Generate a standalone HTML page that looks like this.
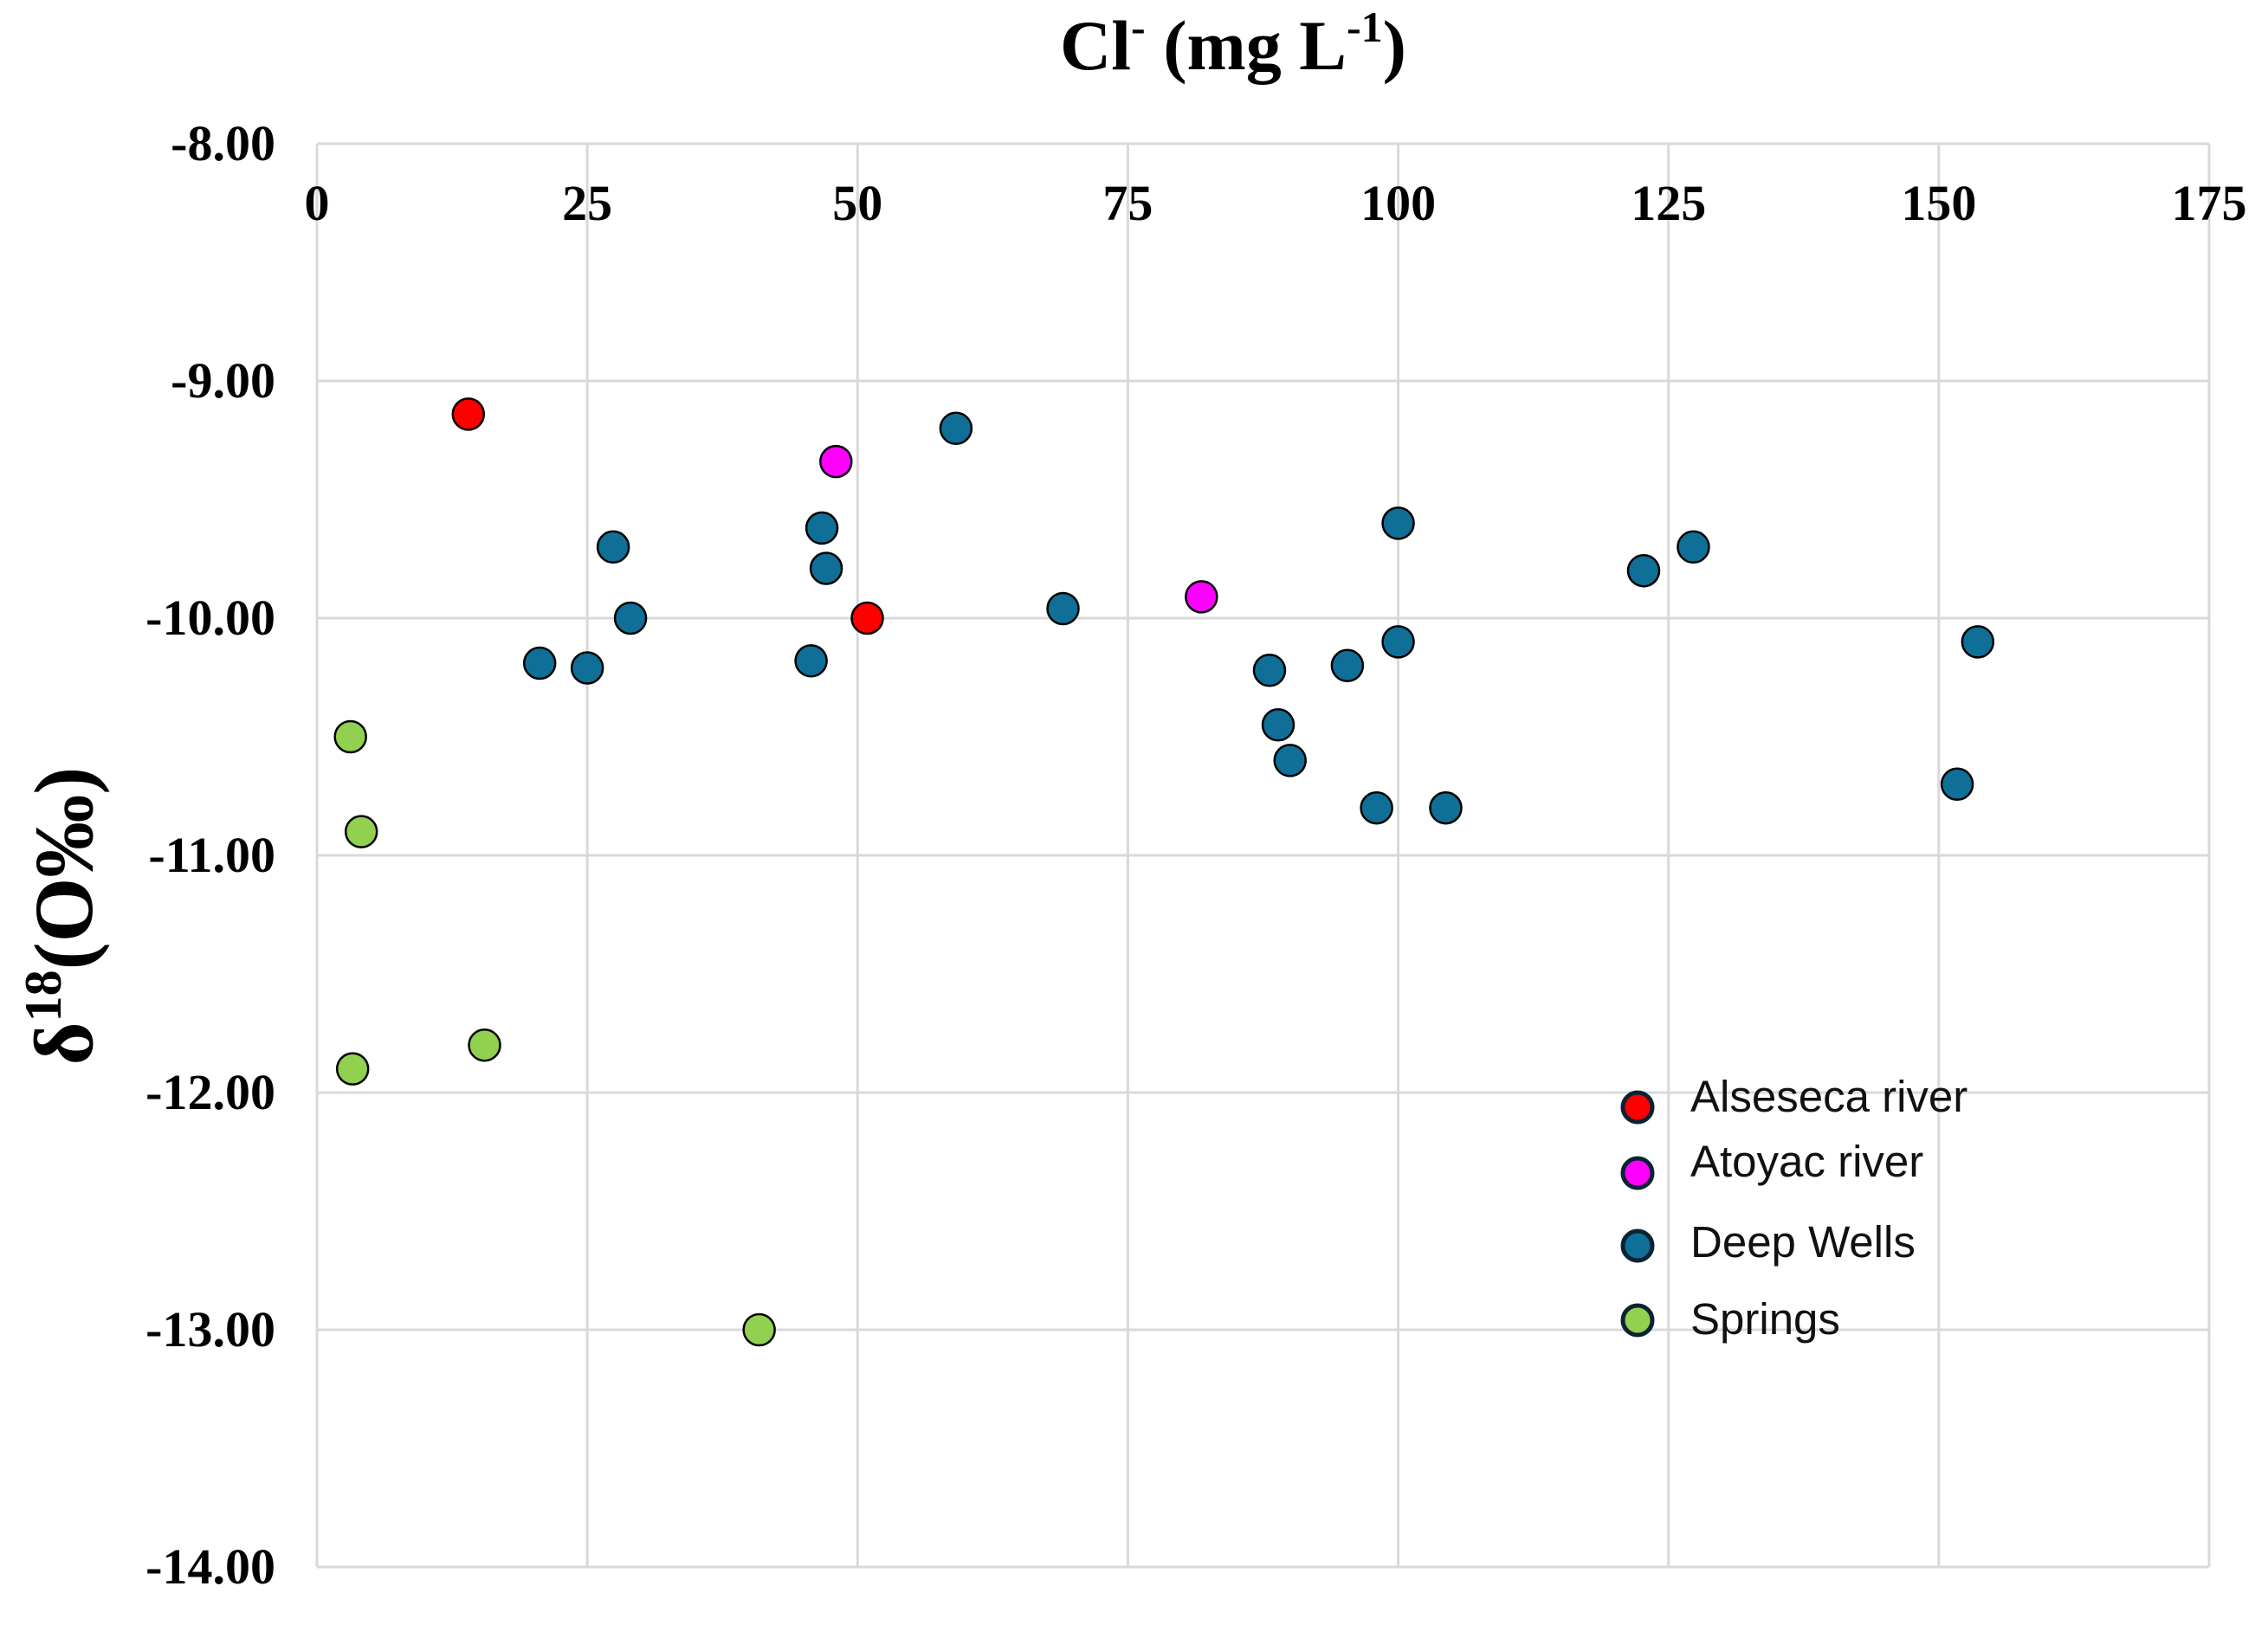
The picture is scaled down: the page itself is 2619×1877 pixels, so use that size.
<!DOCTYPE html>
<html><head><meta charset="utf-8"><style>
html,body{margin:0;padding:0;background:#fff;}
svg{display:block;}
.tick{font-family:"Liberation Serif",serif;font-weight:bold;font-size:58px;fill:#000;}
.leg{font-family:"Liberation Sans",sans-serif;font-size:51px;fill:#111;}
</style></head><body>
<svg id="chart" width="2619" height="1877" viewBox="0 0 2619 1877" xmlns="http://www.w3.org/2000/svg">
<text x="1424" y="80" text-anchor="middle" font-family="Liberation Serif, serif" font-weight="bold" font-size="82">Cl<tspan font-size="50" dy="-32">-</tspan><tspan dy="32"> (mg L</tspan><tspan font-size="50" dy="-32">-1</tspan><tspan dy="32">)</tspan></text>
<text transform="translate(106,1058) rotate(-90)" text-anchor="middle" font-family="Liberation Serif, serif" font-weight="bold" font-size="96">δ<tspan font-size="60" dy="-36">18</tspan><tspan dy="36">(O‰)</tspan></text>
<g id="grid"></g>
<g id="points"></g>
<g id="legend"></g>
</svg>
<script>
const xTicks=[0,25,50,75,100,125,150,175];
const yTicks=[-8,-9,-10,-11,-12,-13,-14];
const alsesecaX=[14.0,50.9];
const alsesecaY=[-9.14,-10.0];
const atoyacX=[48.0,81.8];
const atoyacY=[-9.34,-9.91];
const wellsX=[59.1,46.7,47.1,27.4,29.0,20.6,25.0,45.7,69.0,100,127.3,122.7,100,153.6,88.1,95.3,88.9,90.0,98.0,104.4,151.7];
const wellsY=[-9.20,-9.62,-9.79,-9.70,-10.0,-10.19,-10.21,-10.18,-9.96,-9.60,-9.70,-9.80,-10.10,-10.10,-10.22,-10.20,-10.45,-10.60,-10.80,-10.80,-10.70];
const springsX=[3.1,4.1,3.3,15.5,40.9];
const springsY=[-10.5,-10.9,-11.9,-11.8,-13.0];
const seriesNames=["Alseseca river","Atoyac river","Deep Wells","Springs"];

const NS="http://www.w3.org/2000/svg";
const L=366,R=2551,T=166,B=1810;
function sx(v){return L+(v-0)/(175-0)*(R-L);}
function sy(v){return T+(-8-v)/(6)*(B-T);}
function mk(tag,attrs,parent){const e=document.createElementNS(NS,tag);for(const k in attrs)e.setAttribute(k,attrs[k]);parent.appendChild(e);return e;}
const grid=document.getElementById('grid');
xTicks.forEach(t=>{
  const l=mk('line',{x1:sx(t),x2:sx(t),y1:T,y2:B,stroke:'#d9d9d9','stroke-width':3},grid);
  
  
  const tx=mk('text',{x:sx(t),y:254,'text-anchor':'middle',class:'tick'},grid);
  tx.textContent=t;
  
  
});
yTicks.forEach(t=>{
  const l=mk('line',{x1:L,x2:R,y1:sy(t),y2:sy(t),stroke:'#d9d9d9','stroke-width':3},grid);
  
  
  const tx=mk('text',{x:318,y:sy(t)+19,'text-anchor':'end',class:'tick'},grid);
  tx.textContent=t.toFixed(2);
  
  
});
const pts=document.getElementById('points');
const series=[[alsesecaX,alsesecaY,'#ff0000','alseseca-point'],[atoyacX,atoyacY,'#ff00ff','atoyac-point'],[wellsX,wellsY,'#0f6f96','deep-well-point'],[springsX,springsY,'#92d050','spring-point']];
series.forEach(s=>{
  s[0].forEach((x,i)=>{
    const c=mk('circle',{cx:sx(x),cy:sy(s[1][i]),r:18,fill:s[2],stroke:'#000','stroke-width':2.5},pts);
    
    
  });
});
const leg=document.getElementById('legend');
const legY=[1279,1355,1439,1525];
const legTextY=[1284,1359,1452,1541];
series.forEach((s,i)=>{
  const c=mk('circle',{cx:1891,cy:legY[i],r:17,fill:s[2],stroke:'#0a2233','stroke-width':5},leg);
  
  
  const t=mk('text',{x:1952,y:legTextY[i],class:'leg'},leg);
  t.textContent=seriesNames[i];
  
  
});
</script>
</body></html>
